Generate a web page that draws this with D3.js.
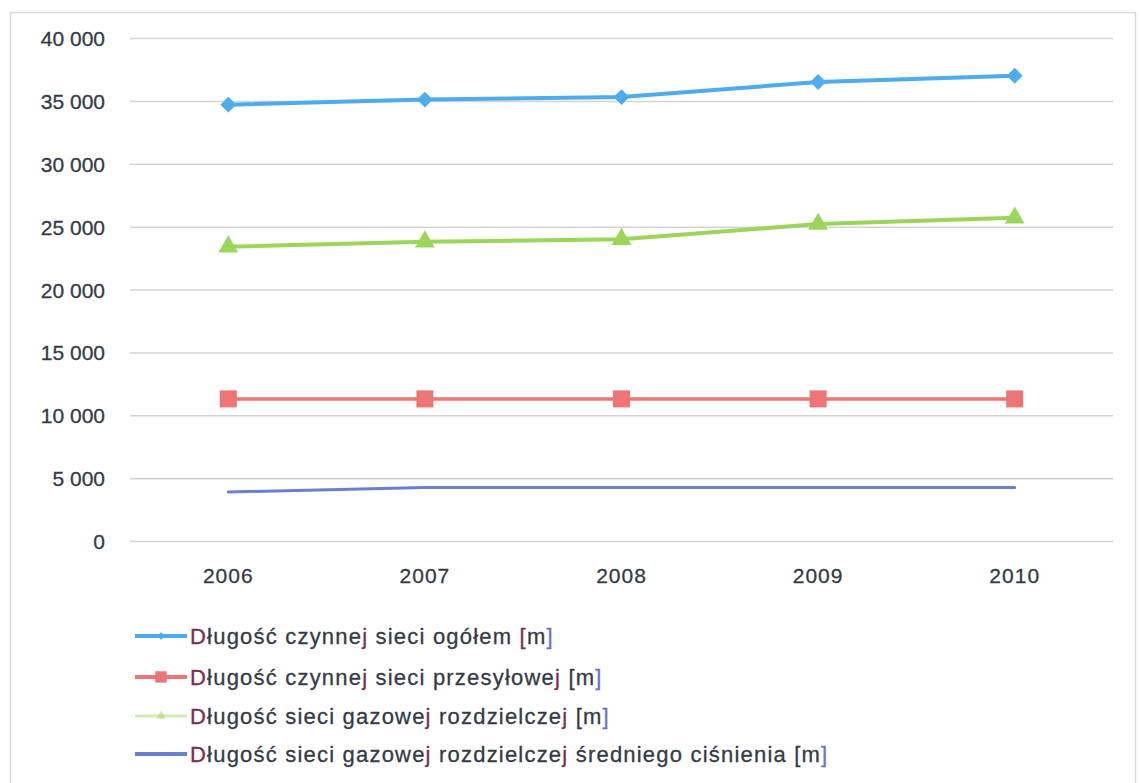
<!DOCTYPE html>
<html>
<head>
<meta charset="utf-8">
<script src="https://cdn.jsdelivr.net/npm/d3@7"></script>
<style>
  html, body { margin: 0; padding: 0; background: #ffffff; }
  svg { display: block; }
  text { font-family: "Liberation Sans", Arial, sans-serif; }
</style>
</head>
<body>
<svg id="chart" width="1140" height="783"></svg>
<script>
// ---- data ----
const years = ["2006", "2007", "2008", "2009", "2010"];
const totalNetwork = [34700, 35100, 35300, 36500, 37000];
const transmissionNetwork = [11300, 11300, 11300, 11300, 11300];
const distributionNetwork = [23400, 23800, 24000, 25200, 25700];
const mediumPressureNetwork = [3900, 4250, 4250, 4250, 4250];
const yTicks = [0, 5000, 10000, 15000, 20000, 25000, 30000, 35000, 40000];
const seriesNames = [
  "Długość czynnej sieci ogółem [m]",
  "Długość czynnej sieci przesyłowej [m]",
  "Długość sieci gazowej rozdzielczej [m]",
  "Długość sieci gazowej rozdzielczej średniego ciśnienia [m]"
];

const series = [
  { name: seriesNames[0], values: totalNetwork, color: "#4dabef", width: 4, symbol: d3.symbolSquare, rot: 45, size: 125, lsize: 30 },
  { name: seriesNames[1], values: transmissionNetwork, color: "#ee7575", width: 3.5, symbol: d3.symbolSquare, rot: 0, size: 290, lsize: 130 },
  { name: seriesNames[2], values: distributionNetwork, color: "#9ad65a", width: 4, symbol: d3.symbolTriangle, rot: 0, size: 170, lsize: 40, faded: true },
  { name: seriesNames[3], values: mediumPressureNetwork, color: "#6b7fd0", width: 3, symbol: null }
];

const svg = d3.select("#chart");

// frame
svg.append("rect").attr("x", 10.5).attr("y", 12.5).attr("width", 1125).attr("height", 790)
  .attr("fill", "none").attr("stroke", "#d9d9d9").attr("stroke-width", 1.5);

const x = d3.scaleBand().domain(years).range([130, 1113]);
const y = d3.scaleLinear().domain([0, 40000]).range([541, 38]);

const fmt = d3.formatLocale({ decimal: ",", thousands: " ", grouping: [3], currency: ["", ""] }).format(",d");
const dark = "#343b47";

// y axis (grid + labels)
const yAxis = d3.axisLeft(y).tickValues(yTicks).tickSize(-(1113 - 130)).tickFormat(fmt).tickPadding(25);
const gy = svg.append("g").attr("transform", "translate(130,0)").call(yAxis);
gy.select(".domain").remove();
gy.selectAll(".tick line").attr("stroke", "#d4d4d4").attr("stroke-width", 1.5);
gy.selectAll(".tick text").attr("fill", dark).attr("font-size", 21).attr("dy", "0.36em")
  .attr("stroke", dark).attr("stroke-width", 0.3);

// x axis labels
const xAxis = d3.axisBottom(x).tickSize(0).tickPadding(0);
const gx = svg.append("g").attr("transform", "translate(0,568)").call(xAxis);
gx.select(".domain").remove();
gx.selectAll(".tick text").attr("fill", dark).attr("font-size", 21)
  .attr("letter-spacing", "1px").attr("dy", "0.71em")
  .attr("stroke", dark).attr("stroke-width", 0.3);

const cx = d => x(d) + x.bandwidth() / 2;
const line = d3.line().x((d, i) => cx(years[i])).y(d => y(d));

series.forEach(s => {
  svg.append("path").datum(s.values).attr("d", line)
    .attr("fill", "none").attr("stroke", s.color).attr("stroke-width", s.width)
    .attr("stroke-linejoin", "round").attr("stroke-linecap", "round");
  if (s.symbol) {
    svg.append("g").selectAll("path").data(s.values).join("path")
      .attr("d", d3.symbol().type(s.symbol).size(s.size))
      .attr("transform", (d, i) => `translate(${cx(years[i])},${y(d)}) rotate(${s.rot})`)
      .attr("fill", s.color);
  }
});

// legend
const legendY = [636, 677, 716, 754];
const maroon = "#7b2d52", blueish = "#6b70c8";
series.forEach((s, i) => {
  const g = svg.append("g").attr("transform", `translate(0,${legendY[i]})`);
  g.append("line").attr("x1", 135).attr("x2", 187).attr("y1", 0).attr("y2", 0)
    .attr("stroke", s.color).attr("stroke-width", s.faded ? 3 : 4)
    .attr("opacity", s.faded ? 0.45 : 1);
  if (s.symbol) {
    g.append("path").attr("d", d3.symbol().type(s.symbol).size(s.lsize))
      .attr("transform", `translate(161,0) rotate(${s.rot})`).attr("fill", s.color)
      .attr("opacity", s.faded ? 0.45 : 1);
  }
  const t = g.append("text").attr("x", 190).attr("dy", "0.36em")
    .attr("font-size", 22).attr("letter-spacing", "1.2px")
    .attr("stroke-width", 0.3);
  const chars = Array.from(s.name);
  chars.forEach((c, k) => {
    let col = dark;
    if (c === "D" || c === "j") col = maroon;
    else if (c === "]") col = blueish;
    else if (c === "[" && i === 0) col = maroon;
    t.append("tspan").attr("fill", col).attr("stroke", col).text(c);
  });
});
</script>
</body>
</html>
